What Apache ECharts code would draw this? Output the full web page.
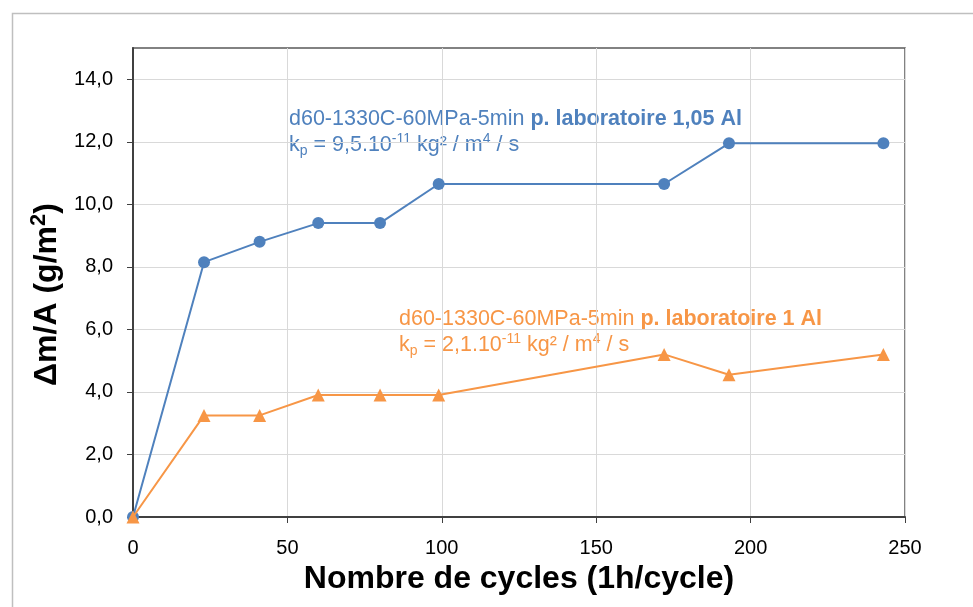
<!DOCTYPE html>
<html>
<head>
<meta charset="utf-8">
<script src="https://cdn.jsdelivr.net/npm/echarts@6/dist/echarts.min.js"></script>
<style>
  html, body { margin: 0; padding: 0; background: #fff; }
  #chart { width: 973px; height: 607px; }
</style>
</head>
<body>
<div id="chart"></div>
<script>
// Mass gain per area vs. number of 1h cycles
const cycles105 = [0, 23, 41, 60, 80, 99, 172, 193, 243];
const gain105 = [0, 8.15, 8.8, 9.4, 9.4, 10.65, 10.65, 11.95, 11.95];
const cycles1 = [0, 23, 41, 60, 80, 99, 172, 193, 243];
const gain1 = [0, 3.25, 3.25, 3.9, 3.9, 3.9, 5.2, 4.55, 5.2];
const xTicks = [0, 50, 100, 150, 200, 250];
const yTicks = [0, 2, 4, 6, 8, 10, 12, 14];

const BLUE = '#4F81BD';
const ORANGE = '#F79646';
const FONT = 'Liberation Sans, Arial, sans-serif';

const chart = echarts.init(document.getElementById('chart'), null, { renderer: 'canvas' });

function pairs(xs, ys) { return xs.map((x, i) => [x, ys[i]]); }

// rich styles for the annotation blocks
function richFor(color) {
  return {
    n: { fontSize: 21.5, fontFamily: FONT, fill: color, lineHeight: 26 },
    b: { fontSize: 21.5, fontFamily: FONT, fill: color, fontWeight: 'bold', lineHeight: 26 },
    sub: { fontSize: 14, fontFamily: FONT, fill: color, verticalAlign: 'bottom', lineHeight: 26 },
    sup: { fontSize: 14, fontFamily: FONT, fill: color, verticalAlign: 'top', lineHeight: 26 }
  };
}

chart.setOption({
  animation: false,
  backgroundColor: '#fff',
  grid: {
    left: 133, right: 68, top: 48, bottom: 90,
    show: true, borderColor: '#595959', borderWidth: 1.5, backgroundColor: 'transparent'
  },
  xAxis: {
    type: 'value', min: xTicks[0], max: xTicks[xTicks.length - 1], interval: 50,
    name: 'Nombre de cycles (1h/cycle)', nameLocation: 'middle', nameGap: 41,
    nameTextStyle: { fontSize: 32, fontWeight: 'bold', fontFamily: FONT, color: '#000' },
    axisLine: { show: true, onZero: false, lineStyle: { color: '#404040', width: 2 } },
    axisTick: { show: true, inside: false, length: 6, lineStyle: { color: '#404040', width: 1 } },
    axisLabel: { fontSize: 20, fontFamily: FONT, color: '#000', margin: 21 },
    splitLine: { show: true, lineStyle: { color: '#D9D9D9', width: 1 } }
  },
  yAxis: {
    type: 'value', min: 0, max: 15, interval: 2,
    name: '{t|Δm/A (g/m}{s|2}{t|)}', nameLocation: 'middle', nameGap: 48, nameRotate: 90,
    nameTextStyle: {
      padding: [0, 24, 0, 0],
      rich: {
        t: { fontSize: 32, fontWeight: 'bold', fontFamily: FONT, color: '#000', lineHeight: 38 },
        s: { fontSize: 22, fontWeight: 'bold', fontFamily: FONT, color: '#000', verticalAlign: 'top', lineHeight: 38 }
      }
    },
    axisLine: { show: true, lineStyle: { color: '#404040', width: 2 } },
    axisTick: { show: true, inside: false, length: 6, customValues: yTicks, lineStyle: { color: '#404040', width: 1 } },
    axisLabel: {
      fontSize: 20, fontFamily: FONT, color: '#000', margin: 20, customValues: yTicks,
      formatter: v => v.toFixed(1).replace('.', ',')
    },
    splitLine: { show: true, lineStyle: { color: '#D9D9D9', width: 1 } }
  },
  series: [
    {
      name: '1,05 Al', type: 'line', data: pairs(cycles105, gain105),
      symbol: 'circle', symbolSize: 12,
      lineStyle: { color: BLUE, width: 2 }, itemStyle: { color: BLUE }, z: 3
    },
    {
      name: '1 Al', type: 'line', data: pairs(cycles1, gain1),
      symbol: 'triangle', symbolSize: 13,
      lineStyle: { color: ORANGE, width: 2 }, itemStyle: { color: ORANGE }, z: 4
    }
  ],
  graphic: [
    {
      type: 'rect', left: 10, top: 11, silent: true,
      shape: { width: 1000, height: 700 },
      style: { fill: 'none', stroke: '#BFBFBF', lineWidth: 1.5 }, z: -1
    },
    {
      type: 'text', left: 289, top: 108,
      style: {
        text: '{n|d60-1330C-60MPa-5min }{b|p. laboratoire 1,05 Al}\n{n|k}{sub|p}{n| = 9,5.10}{sup|-11}{n| kg² / m}{sup|4}{n| / s}',
        fill: BLUE,
        rich: richFor(BLUE)
      }
    },
    {
      type: 'text', left: 399, top: 308,
      style: {
        text: '{n|d60-1330C-60MPa-5min }{b|p. laboratoire 1 Al}\n{n|k}{sub|p}{n| = 2,1.10}{sup|-11}{n| kg² / m}{sup|4}{n| / s}',
        fill: ORANGE,
        rich: richFor(ORANGE)
      }
    }
  ]
});
</script>
</body>
</html>
